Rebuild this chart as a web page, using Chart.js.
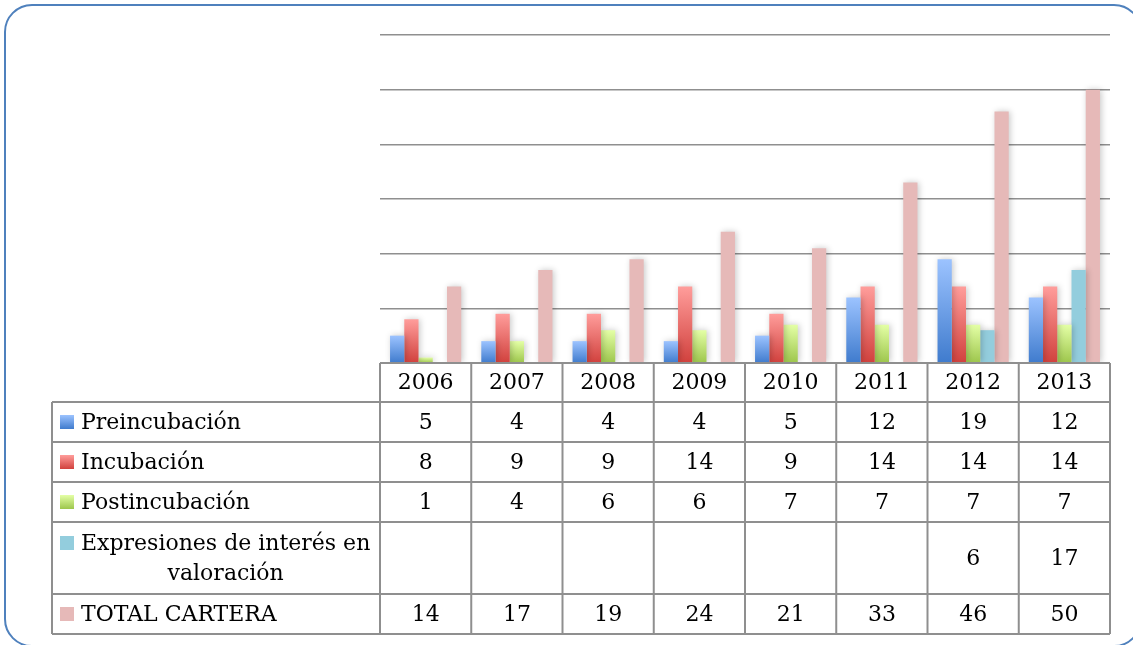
<!DOCTYPE html>
<html>
<head>
<meta charset="utf-8">
<script src="https://cdn.jsdelivr.net/npm/chart.js@4.4.1/dist/chart.umd.min.js"></script>
<style>
  html, body { margin: 0; padding: 0; background: #fff; overflow: hidden; }
  #wrap { width: 1133px; height: 645px; position: relative; }
</style>
</head>
<body>
<div id="wrap"><canvas id="chartCartera"></canvas></div>
<script>
// ===== DATA =====
const years = ['2006', '2007', '2008', '2009', '2010', '2011', '2012', '2013'];
const seriesLabels = ['Preincubación', 'Incubación', 'Postincubación', 'Expresiones de interés en valoración', 'TOTAL CARTERA'];
const preincubacion = [5, 4, 4, 4, 5, 12, 19, 12];
const incubacion = [8, 9, 9, 14, 9, 14, 14, 14];
const postincubacion = [1, 4, 6, 6, 7, 7, 7, 7];
const expresiones = [null, null, null, null, null, null, 6, 17];
const totalCartera = [14, 17, 19, 24, 21, 33, 46, 50];
const yTicks = [0, 10, 20, 30, 40, 50, 60];

// ===== STYLE =====
const FONT = '22px "DejaVu Serif", serif';
const LINE = '#8f8f8f';
const colors = [
  ['#9cc3ff', '#3f7bcd'],   // preincubacion (top, bottom)
  ['#ff9d9b', '#d1413d'],   // incubacion
  ['#e4ffa6', '#9dc64c'],   // postincubacion
  ['#93cddd', '#93cddd'],   // expresiones
  ['#e6b9b8', '#e6b9b8'],   // total
];
// table rows: header + 5 series rows
const rowEdges = [363, 402, 442, 482, 522, 594, 634];
const tableLeft = 52;

function barGradient(top, bottom) {
  return function (context) {
    if (top === bottom) return top;
    const chart = context.chart;
    const y = chart.scales && chart.scales.y;
    if (!y || context.type !== 'data' || !context.parsed || context.parsed.y == null) return bottom;
    const yTop = y.getPixelForValue(context.parsed.y);
    const yBase = y.getPixelForValue(0);
    if (!isFinite(yTop) || yBase - yTop < 1) return bottom;
    const g = chart.ctx.createLinearGradient(0, yTop, 0, yBase);
    g.addColorStop(0, top);
    g.addColorStop(1, bottom);
    return g;
  };
}

const barShadow = {
  id: 'barShadow',
  beforeDatasetsDraw(chart) {
    const c = chart.ctx;
    c.save();
    c.shadowColor = 'rgba(0,0,0,0.22)';
    c.shadowBlur = 6;
    c.shadowOffsetX = 1.5;
    c.shadowOffsetY = 0;
  },
  afterDatasetsDraw(chart) {
    chart.ctx.restore();
  }
};

// data table under the plot + rounded frame
const dataTable = {
  id: 'dataTable',
  afterDraw(chart) {
    const c = chart.ctx;
    const x = chart.scales.x;
    const area = chart.chartArea;
    const colW = (area.right - area.left) / years.length;
    const rowsData = [preincubacion, incubacion, postincubacion, expresiones, totalCartera];
    c.save();

    // lines
    c.strokeStyle = LINE;
    c.lineWidth = 2;
    c.beginPath();
    c.moveTo(area.left, rowEdges[0]); c.lineTo(area.right, rowEdges[0]);
    for (let r = 1; r < rowEdges.length; r++) {
      c.moveTo(tableLeft, rowEdges[r]); c.lineTo(area.right, rowEdges[r]);
    }
    c.moveTo(tableLeft, rowEdges[1]); c.lineTo(tableLeft, rowEdges[rowEdges.length - 1]);
    for (let i = 0; i <= years.length; i++) {
      const px = area.left + i * colW;
      c.moveTo(px, rowEdges[0]); c.lineTo(px, rowEdges[rowEdges.length - 1]);
    }
    c.stroke();

    c.fillStyle = '#000';
    c.font = FONT;
    c.textAlign = 'center';
    c.textBaseline = 'middle';

    // year header
    years.forEach((yr, i) => {
      c.fillText(yr, x.getPixelForValue(i), (rowEdges[0] + rowEdges[1]) / 2 + 1);
    });

    // series rows
    rowsData.forEach((vals, r) => {
      const top = rowEdges[r + 1], bot = rowEdges[r + 2];
      const mid = (top + bot) / 2 + 1;
      vals.forEach((v, i) => {
        if (v != null) {
          c.textAlign = 'center';
          c.fillText(String(v), x.getPixelForValue(i), mid);
        }
      });
      // legend key + label
      const lines = r === 3 ? ['Expresiones de interés en', 'valoración'] : [seriesLabels[r]];
      const firstY = lines.length > 1 ? mid - 15 : mid;
      const g = c.createLinearGradient(0, firstY - 8, 0, firstY + 6);
      g.addColorStop(0, colors[r][0]);
      g.addColorStop(1, colors[r][1]);
      c.fillStyle = g;
      c.fillRect(60, firstY - 8, 14, 14);
      c.fillStyle = '#000';
      c.textAlign = 'left';
      c.fillText(lines[0], 81, firstY);
      if (lines.length > 1) {
        const w = c.measureText(lines[0]).width;
        c.textAlign = 'center';
        c.fillText(lines[1], 81 + w / 2, firstY + 30);
      }
    });

    // outer rounded frame (right and bottom edges run just past the page)
    c.strokeStyle = '#4f81bd';
    c.lineWidth = 2;
    c.beginPath();
    c.roundRect(5, 5, 1136, 641, 27);
    c.stroke();
    c.restore();
  }
};

const ctx = document.getElementById('chartCartera');
new Chart(ctx, {
  type: 'bar',
  data: {
    labels: years,
    datasets: [
      { label: seriesLabels[0], data: preincubacion, backgroundColor: barGradient(colors[0][0], colors[0][1]) },
      { label: seriesLabels[1], data: incubacion, backgroundColor: barGradient(colors[1][0], colors[1][1]) },
      { label: seriesLabels[2], data: postincubacion, backgroundColor: barGradient(colors[2][0], colors[2][1]) },
      { label: seriesLabels[3], data: expresiones, backgroundColor: colors[3][0] },
      { label: seriesLabels[4], data: totalCartera, backgroundColor: colors[4][0] },
    ]
  },
  options: {
    responsive: true, maintainAspectRatio: false,
    animation: false,
    layout: { padding: { left: 380, right: 23, top: 35, bottom: 282 } },
    datasets: { bar: { categoryPercentage: 0.78, barPercentage: 1.0, borderWidth: 0 } },
    plugins: { legend: { display: false }, tooltip: { enabled: false } },
    scales: {
      x: {
        ticks: { display: false },
        grid: { display: false },
        border: { display: false },
        afterFit: s => { s.height = 0; }
      },
      y: {
        min: yTicks[0], max: yTicks[yTicks.length - 1],
        afterBuildTicks: s => { s.ticks = yTicks.map(v => ({ value: v })); },
        ticks: { display: false },
        grid: { color: LINE, lineWidth: 1.6, drawTicks: false },
        border: { display: false },
        afterFit: s => { s.width = 0; }
      }
    }
  },
  plugins: [barShadow, dataTable]
});
</script>
</body>
</html>
